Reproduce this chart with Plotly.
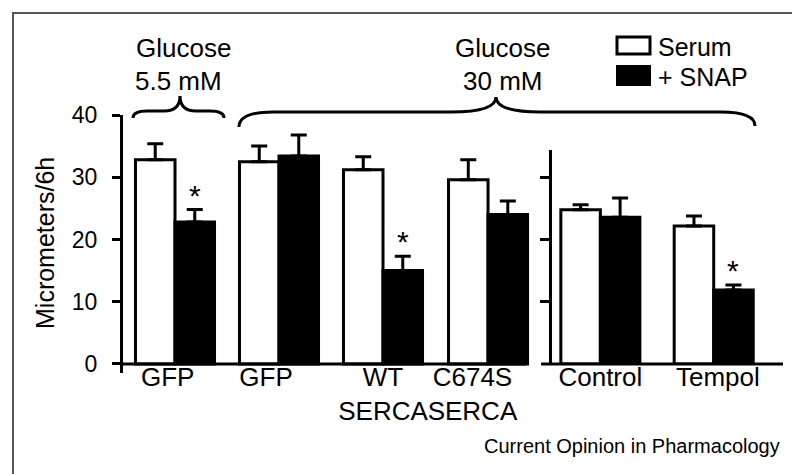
import plotly.graph_objects as go

# ---------------- data ----------------
groups = ["GFP (5.5 mM)", "GFP", "WT SERCA", "C674S SERCA", "Control", "Tempol"]
tick_text = ["GFP", "GFP", "WT<br>SERCA", "C674S<br>SERCA", "Control", "Tempol"]
serum = [32.8, 32.5, 31.2, 29.6, 24.8, 22.2]
serum_err = [2.6, 2.5, 2.1, 3.2, 0.8, 1.6]
snap = [22.8, 33.4, 15.0, 24.0, 23.6, 11.9]
snap_err = [2.0, 3.4, 2.3, 2.2, 3.1, 0.8]
snap_sig = [True, False, True, False, False, True]
panel = [1, 1, 1, 1, 2, 2]
y_ticks = [0, 10, 20, 30, 40]
y2_ticks = [10, 20, 30]

# ---------------- layout helpers ----------------
W, H = 800, 474
ML, MR, MT, MB = 115, 25, 107, 109
PW, PH = W - ML - MR, H - MT - MB
FONT = "Liberation Sans, Arial, Helvetica, sans-serif"

group_pos = [0, 1, 2, 3.01, 4.09, 5.18]
label_pos = [-0.07, 0.875, 2.0, 2.86, 4.09, 5.22]
BW = 0.38
X_RANGE = [-0.5, -0.5 + PW / 104.0]


def X(px):
    return (px - ML) / PW


def Y(py):
    return (H - MB - py) / PH


fig = go.Figure()

for p, yax in ((1, "y"), (2, "y2")):
    idx = [i for i in range(len(groups)) if panel[i] == p]
    fig.add_trace(go.Bar(
        x=[group_pos[i] for i in idx], y=[serum[i] for i in idx],
        name="Serum", width=BW, offset=-BW, yaxis=yax,
        marker=dict(color="white", line=dict(color="black", width=3)),
        error_y=dict(type="data", array=[serum_err[i] for i in idx],
                     arrayminus=[0] * len(idx), symmetric=False,
                     color="black", thickness=3, width=8),
        showlegend=False, hoverinfo="skip"))
    fig.add_trace(go.Bar(
        x=[group_pos[i] for i in idx], y=[snap[i] for i in idx],
        name="+ SNAP", width=BW, offset=0, yaxis=yax,
        marker=dict(color="black", line=dict(color="black", width=3)),
        error_y=dict(type="data", array=[snap_err[i] for i in idx],
                     arrayminus=[0] * len(idx), symmetric=False,
                     color="black", thickness=3, width=8),
        showlegend=False, hoverinfo="skip"))

annotations = []
# significance stars
for i in range(len(groups)):
    if snap_sig[i]:
        annotations.append(dict(
            x=group_pos[i] + BW / 2, y=snap[i] + snap_err[i],
            xref="x", yref="y" if panel[i] == 1 else "y2",
            text="*", showarrow=False, yanchor="bottom", yshift=-4,
            font=dict(size=30, color="black", family=FONT)))

# texts
def txt(text, px, py, size=24, anchor="center", angle=0):
    annotations.append(dict(
        x=X(px), y=Y(py), xref="paper", yref="paper", text=text,
        showarrow=False, xanchor=anchor, yanchor="middle", textangle=angle,
        font=dict(size=size, color="black", family=FONT)))

txt("Glucose", 175, 40, 26)
txt("5.5 mM", 170, 73, 26)
txt("Glucose", 494, 40, 26)
txt("30 mM", 494, 73, 26)
txt("Serum", 648, 39, 25, "left")
txt("+ SNAP", 648, 69, 25, "left")
txt("Micrometers/6h", 37, 235, 25, "center", -90)
txt("Current Opinion in Pharmacology", 774, 438, 20, "right")

shapes = []


def brace(x0, x1, xc, y_end0, y_end1, y_line, y_tip, r_end, r_tip):
    pts = [
        f"M {X(x0)},{Y(y_end0)}",
        f"Q {X(x0)},{Y(y_line)} {X(x0 + r_end)},{Y(y_line)}",
        f"L {X(xc - r_tip)},{Y(y_line)}",
        f"Q {X(xc)},{Y(y_line)} {X(xc)},{Y(y_tip)}",
        f"Q {X(xc)},{Y(y_line)} {X(xc + r_tip)},{Y(y_line)}",
        f"L {X(x1 - r_end)},{Y(y_line)}",
        f"Q {X(x1)},{Y(y_line)} {X(x1)},{Y(y_end1)}",
    ]
    shapes.append(dict(type="path", path=" ".join(pts), xref="paper", yref="paper",
                       line=dict(color="black", width=3)))


brace(125, 216, 172, 110, 110, 103, 88, 14, 16)
brace(231, 747, 488, 119, 118, 104, 89, 34, 45)

# border
shapes.append(dict(type="rect", xref="paper", yref="paper",
                   x0=X(5), x1=X(795), y0=Y(468), y1=Y(5),
                   line=dict(color="#555555", width=2)))
# legend boxes
shapes.append(dict(type="rect", xref="paper", yref="paper",
                   x0=X(609), x1=X(642), y0=Y(46), y1=Y(29),
                   fillcolor="white", line=dict(color="black", width=3)))
shapes.append(dict(type="rect", xref="paper", yref="paper",
                   x0=X(608), x1=X(643), y0=Y(78), y1=Y(57),
                   fillcolor="black", line=dict(color="black", width=0)))
# baselines of both panels
shapes.append(dict(type="line", xref="x", yref="y", x0=X_RANGE[0], x1=3.375, y0=0, y1=0,
                   line=dict(color="black", width=3)))
shapes.append(dict(type="line", xref="x", yref="y", x0=3.52, x1=X_RANGE[1], y0=0, y1=0,
                   line=dict(color="black", width=3)))

fig.update_layout(
    width=W, height=H, margin=dict(l=ML, r=MR, t=MT, b=MB),
    paper_bgcolor="white", plot_bgcolor="rgba(0,0,0,0)",
    barmode="overlay", showlegend=False,
    font=dict(family=FONT, color="black"),
    xaxis=dict(range=X_RANGE, tickvals=label_pos, ticktext=tick_text,
               showgrid=False, zeroline=False, showline=False, ticks="",
               tickangle=0, ticklabelstandoff=-14,
               tickfont=dict(size=26, color="black", family=FONT)),
    yaxis=dict(range=[-1.45, 40], tickvals=y_ticks, ticks="outside", ticklen=8,
               tickwidth=3, tickcolor="black", showline=True, linewidth=3,
               linecolor="black", showgrid=False, zeroline=False,
               ticklabelstandoff=10,
               tickfont=dict(size=23, color="black", family=FONT)),
    yaxis2=dict(domain=[Y(356), Y(142)], range=[0, 34.4], anchor="free",
                position=X(542), side="left", tickvals=y2_ticks, ticks="outside",
                ticklen=9, tickwidth=3, tickcolor="black", showline=True,
                linewidth=3, linecolor="black", showticklabels=False,
                showgrid=False, zeroline=False),
    annotations=annotations, shapes=shapes,
)

fig.write_html("out.html")
